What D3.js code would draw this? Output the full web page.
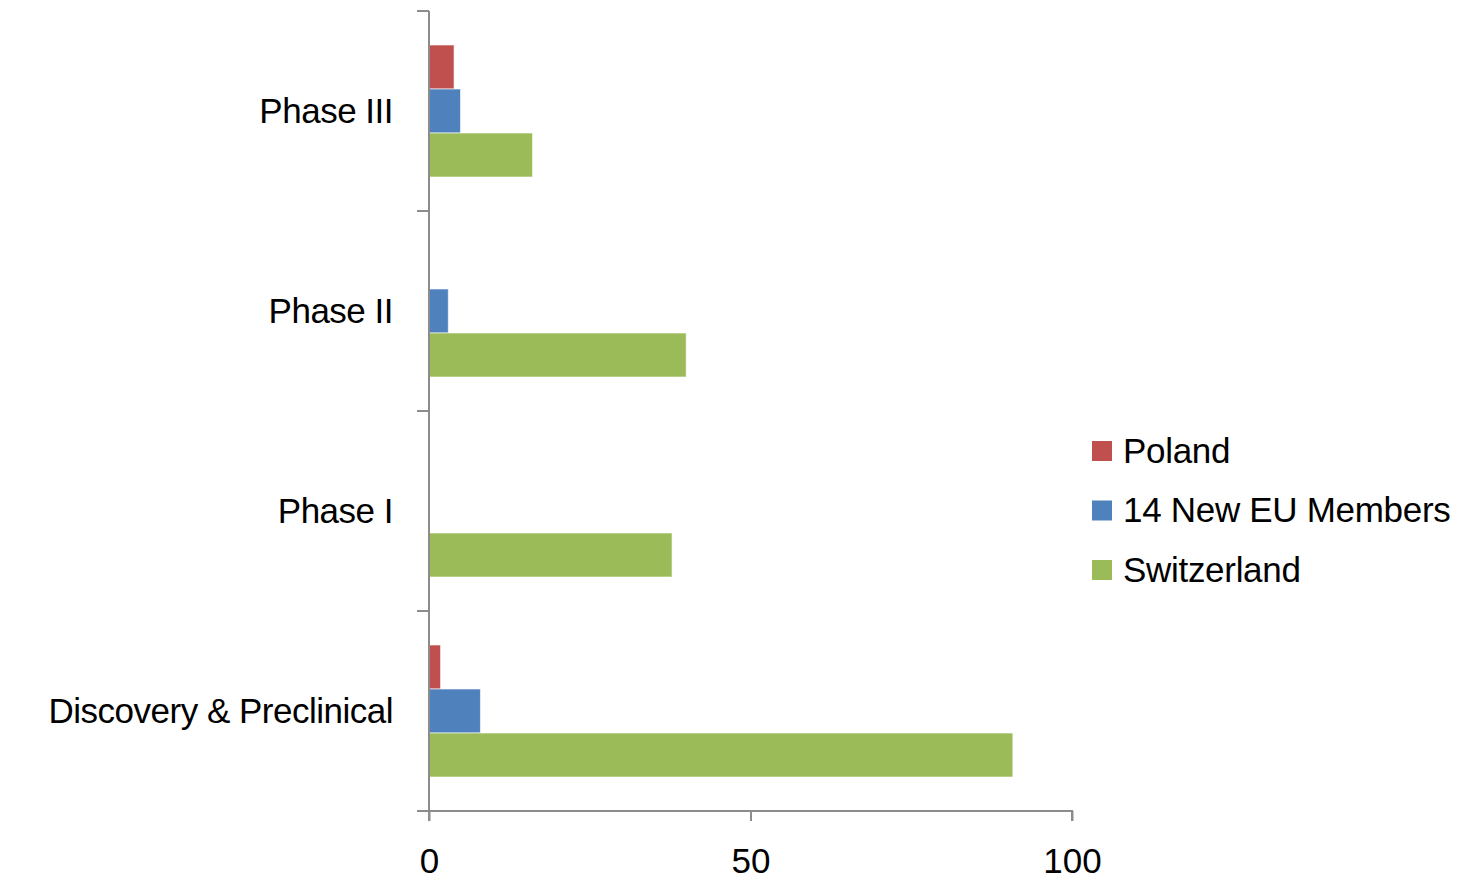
<!DOCTYPE html>
<html>
<head>
<meta charset="utf-8">
<script src="https://cdn.jsdelivr.net/npm/d3@7/dist/d3.min.js"></script>
<style>
  html, body { margin: 0; padding: 0; background: #fff; }
  svg { display: block; }
  text { font-family: "Liberation Sans", Arial, sans-serif; fill: #000; }
</style>
</head>
<body>
<svg id="chart" width="1471" height="879"></svg>
<script>
// Pipeline phases, listed top to bottom
const categories = ["Phase III", "Phase II", "Phase I", "Discovery & Preclinical"];
const seriesNames = ["Poland", "14 New EU Members", "Switzerland"];
const seriesColors = ["#C0504D", "#4F81BD", "#9BBB59"];
// Values per phase, in category order
const poland = [3.9, 0, 0, 1.8];
const newEuMembers = [4.9, 3.0, 0, 8.0];
const switzerland = [16.1, 40.0, 37.8, 90.8];
const xTicks = [0, 50, 100];

const seriesValues = [poland, newEuMembers, switzerland];

const svg = d3.select("#chart");
const plotLeft = 429, plotRight = 1072, plotTop = 11, plotBottom = 811;
const axisColor = "#8c8c8c";
const fontSize = 35;

const x = d3.scaleLinear().domain([0, 100]).range([plotLeft, plotRight]);
const y = d3.scaleBand().domain(categories).range([plotTop, plotBottom]).paddingInner(0).paddingOuter(0);
const inner = d3.scaleBand().domain(seriesNames).range([34, y.bandwidth() - 34]).padding(0);

// Bars
const groups = svg.append("g").selectAll("g")
  .data(categories)
  .join("g")
  .attr("transform", d => `translate(0,${y(d)})`);

groups.selectAll("rect")
  .data((c, ci) => seriesNames.map((s, si) => ({ s, si, v: seriesValues[si][ci] })).filter(d => d.v > 0))
  .join("rect")
  .attr("x", x(0))
  .attr("y", d => inner(d.s))
  .attr("width", d => x(d.v) - x(0))
  .attr("height", inner.bandwidth())
  .attr("fill", d => seriesColors[d.si])
  .attr("stroke", "rgba(255,255,255,0.6)")
  .attr("stroke-width", 1);

// Category axis (left): tick marks on the band boundaries
const boundaries = categories.map(c => y(c)).concat([plotBottom]);
svg.append("g").selectAll("line")
  .data(boundaries)
  .join("line")
  .attr("x1", plotLeft - 12).attr("x2", plotLeft)
  .attr("y1", d => d).attr("y2", d => d)
  .attr("stroke", axisColor).attr("stroke-width", 2);
svg.append("line")
  .attr("x1", plotLeft).attr("x2", plotLeft)
  .attr("y1", plotTop).attr("y2", plotBottom + 10)
  .attr("stroke", axisColor).attr("stroke-width", 2);

svg.append("g").selectAll("text")
  .data(categories)
  .join("text")
  .attr("x", 393)
  .attr("y", d => y(d) + y.bandwidth() / 2)
  .attr("dy", "0.35em")
  .attr("text-anchor", "end")
  .attr("font-size", fontSize)
  .attr("letter-spacing", -0.5)
  .text(d => d);

// Value axis (bottom)
const xAxis = d3.axisBottom(x).tickValues(xTicks).tickSize(10).tickFormat(d3.format("d"));
const xg = svg.append("g").attr("transform", `translate(0,${plotBottom})`).call(xAxis);
xg.select(".domain").attr("stroke", axisColor).attr("stroke-width", 2)
  .attr("d", `M${plotLeft},0H${plotRight}V10`);
xg.selectAll(".tick line").attr("stroke", axisColor).attr("stroke-width", 2);
xg.selectAll(".tick text")
  .attr("font-size", fontSize)
  .attr("y", 62)
  .attr("dy", 0)
  .attr("fill", "#000")
  .style("font-family", "'Liberation Sans', Arial, sans-serif");

// Legend
const legend = svg.append("g").attr("transform", "translate(1092,441)");
const rows = legend.selectAll("g")
  .data(seriesNames)
  .join("g")
  .attr("transform", (d, i) => `translate(0,${i * 59.5})`);
rows.append("rect")
  .attr("width", 20).attr("height", 20)
  .attr("fill", (d, i) => seriesColors[i]);
rows.append("text")
  .attr("x", 31).attr("y", 10).attr("dy", "0.33em")
  .attr("font-size", fontSize)
  .attr("letter-spacing", -0.3)
  .text(d => d);
</script>
</body>
</html>
